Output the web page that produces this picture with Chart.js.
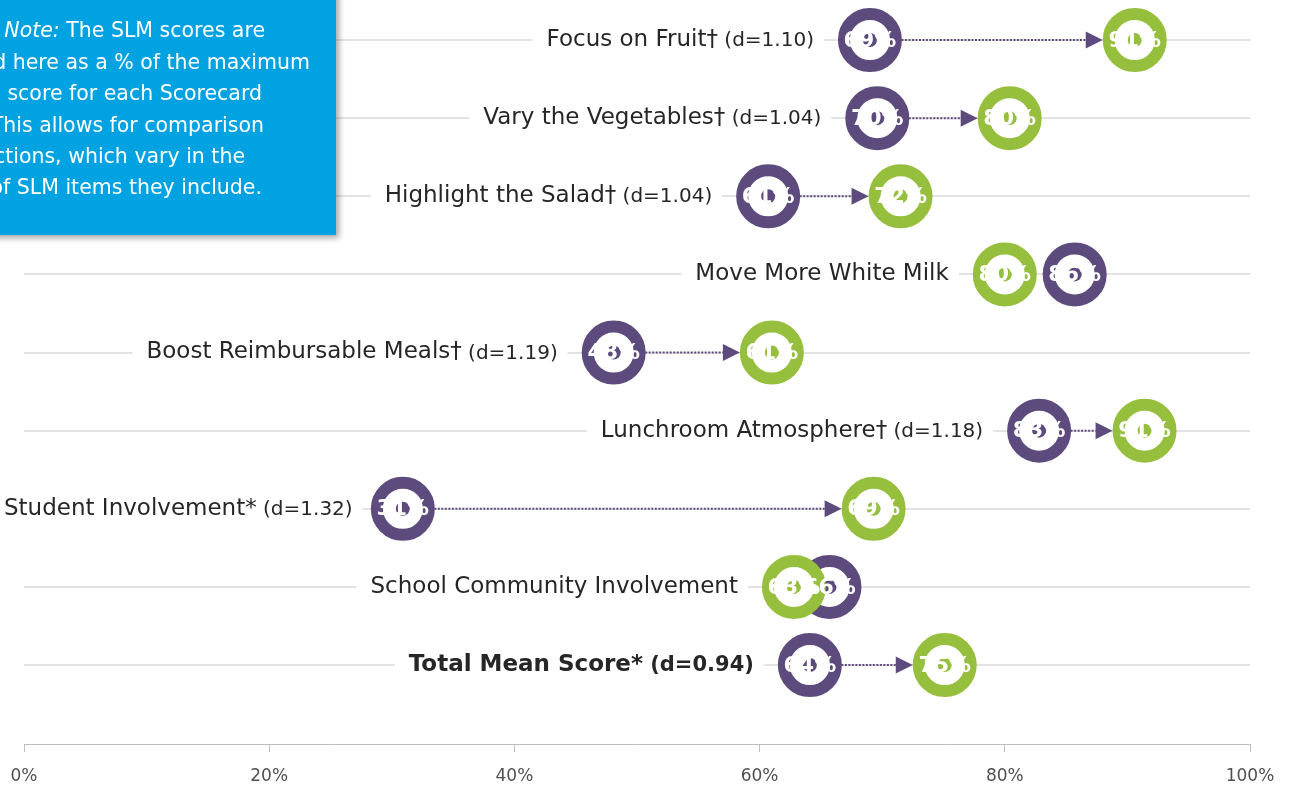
<!DOCTYPE html>
<html><head><meta charset="utf-8">
<script src="https://cdn.jsdelivr.net/npm/chart.js@4.4.1/dist/chart.umd.min.js"></script>
<style>html,body{margin:0;padding:0;background:#fff;overflow:hidden}canvas{display:block}</style>
</head><body>
<canvas id="c" width="1289" height="786"></canvas>
<script>
// ---- data ----
const categories = ['Focus on Fruit\u2020', 'Vary the Vegetables\u2020', 'Highlight the Salad\u2020', 'Move More White Milk',
  'Boost Reimbursable Meals\u2020', 'Lunchroom Atmosphere\u2020', 'Student Involvement*', 'School Community Involvement', 'Total Mean Score*'];
const effectSizes = ['(d=1.10)', '(d=1.04)', '(d=1.04)', '', '(d=1.19)', '(d=1.18)', '(d=1.32)', '', '(d=0.94)'];
const baselineScores = [69.0, 69.6, 60.7, 85.7, 48.1, 82.8, 30.9, 65.7, 64.1];   // purple
const followupScores = [90.6, 80.4, 71.5, 80.0, 61.0, 91.4, 69.3, 62.8, 75.1];   // green
const xTickValues = [0, 20, 40, 60, 80, 100];
const noteLines = ['The SLM scores are', 'presented here as a % of the maximum', 'possible score for each Scorecard',
  'section. This allows for comparison', 'across sections, which vary in the', 'number of SLM items they include.'];
const noteLead = 'Note:';

const PURPLE = '#5e4b7d', GREEN = '#95bf3d', BLUE = '#00a2e2';
const FONT = '"DejaVu Sans", sans-serif';
const pts = arr => arr.map((v, i) => ({ x: v, y: i }));
const R_OUT = 32;

const decorPlugin = {
  id: 'decor',
  beforeDraw(chart) {
    const ctx = chart.ctx;
    ctx.save(); ctx.fillStyle = '#fff'; ctx.fillRect(0, 0, chart.width, chart.height); ctx.restore();
  },
  beforeDatasetsDraw(chart) {
    const ctx = chart.ctx, xs = chart.scales.x, ys = chart.scales.y;
    categories.forEach((cat, i) => {
      const y = ys.getPixelForValue(i);
      const p1 = xs.getPixelForValue(baselineScores[i]);
      const p2 = xs.getPixelForValue(followupScores[i]);
      const bold = i === categories.length - 1;
      const mainFont = (bold ? 'bold ' : '') + '23px ' + FONT;
      const effFont = (bold ? 'bold ' : '') + (bold ? '21px ' : '20px ') + FONT;
      ctx.save();
      ctx.font = mainFont; const wMain = ctx.measureText(cat).width;
      ctx.font = effFont; const eff = effectSizes[i] ? ' ' + effectSizes[i] : '';
      const wEff = eff ? ctx.measureText(eff).width : 0;
      const leftEdge = Math.min(p1, p2) - R_OUT;
      const textRight = leftEdge - 24;
      const textLeft = Math.max(4, textRight - wMain - wEff);
      ctx.fillStyle = '#fff';
      ctx.fillRect(textLeft - 14, y - 8, (textLeft + wMain + wEff + 10) - (textLeft - 14), 16);
      ctx.fillStyle = '#262626';
      ctx.textBaseline = 'middle'; ctx.textAlign = 'left';
      ctx.font = mainFont; ctx.fillText(cat, textLeft, y);
      if (eff) { ctx.font = effFont; ctx.fillText(eff, textLeft + wMain, y + 1); }
      // arrow
      const d = p2 - p1, dir = Math.sign(d);
      if (Math.abs(d) > 2 * R_OUT + 18) {
        const tip = p2 - dir * R_OUT, base = tip - dir * 17;
        ctx.strokeStyle = PURPLE; ctx.lineWidth = 2; ctx.setLineDash([2, 1.5]);
        ctx.beginPath(); ctx.moveTo(p1, y); ctx.lineTo(base, y); ctx.stroke();
        ctx.setLineDash([]);
        ctx.fillStyle = PURPLE;
        ctx.beginPath(); ctx.moveTo(tip, y); ctx.lineTo(base, y - 8.5); ctx.lineTo(base, y + 8.5); ctx.closePath(); ctx.fill();
      }
      ctx.restore();
    });
  },
  afterDatasetsDraw(chart) {
    const ctx = chart.ctx, xs = chart.scales.x, ys = chart.scales.y;
    ctx.save();
    ctx.font = 'bold 22px ' + FONT; ctx.fillStyle = '#fff';
    ctx.textAlign = 'center'; ctx.textBaseline = 'middle';
    [baselineScores, followupScores].forEach(arr => arr.forEach((v, i) => {
      ctx.fillText(Math.round(v) + '%', xs.getPixelForValue(v), ys.getPixelForValue(i) + 1);
    }));
    ctx.restore();
    // note box
    ctx.save();
    ctx.shadowColor = 'rgba(0,0,0,0.35)'; ctx.shadowBlur = 6; ctx.shadowOffsetX = 3; ctx.shadowOffsetY = 3;
    ctx.fillStyle = BLUE; ctx.fillRect(-20, -20, 356, 255);
    ctx.restore();
    ctx.save();
    ctx.fillStyle = '#fff'; ctx.textBaseline = 'middle'; ctx.textAlign = 'left';
    const ends = [265, 310, 262, 264, 245, 262];
    const nf = '20.5px ' + FONT;
    noteLines.forEach((ln, k) => {
      const y = 32 + k * 31.4;
      ctx.font = nf;
      if (k === 0) {
        const w2 = ctx.measureText(' ' + ln).width;
        ctx.font = 'italic ' + nf;
        const w1 = ctx.measureText(noteLead).width;
        const x0 = ends[k] - w1 - w2;
        ctx.fillText(noteLead, x0, y);
        ctx.font = nf; ctx.fillText(' ' + ln, x0 + w1, y);
      } else {
        const w = ctx.measureText(ln).width;
        ctx.fillText(ln, ends[k] - w, y);
      }
    });
    ctx.restore();
  }
};

const ringDefaults = { pointRadius: 26, backgroundColor: '#fff', borderWidth: 12, clip: false };
new Chart(document.getElementById('c'), {
  type: 'scatter',
  data: {
    datasets: [
      { data: pts(followupScores), pointRadius: 7, backgroundColor: GREEN, borderWidth: 0, clip: false },
      Object.assign({ data: pts(followupScores), borderColor: GREEN }, ringDefaults),
      { data: pts(baselineScores), pointRadius: 7, backgroundColor: PURPLE, borderWidth: 0, clip: false },
      Object.assign({ data: pts(baselineScores), borderColor: PURPLE }, ringDefaults)
    ]
  },
  options: {
    responsive: false, animation: false, devicePixelRatio: 1, events: [],
    layout: { autoPadding: false, padding: { left: 24, right: 39, top: 0, bottom: 0 } },
    plugins: { legend: { display: false }, tooltip: { enabled: false } },
    scales: {
      x: {
        type: 'linear', min: 0, max: 100,
        afterBuildTicks: s => { s.ticks = xTickValues.map(v => ({ value: v })); },
        afterFit: s => { s.height = 42; s.paddingLeft = 0; s.paddingRight = 0; },
        ticks: { callback: v => v + '%', font: { family: FONT, size: 17 }, color: '#505050', padding: 14, maxRotation: 0 },
        grid: { drawOnChartArea: false, drawTicks: true, tickLength: 8, color: '#bfbfbf' },
        border: { display: true, color: '#bfbfbf', width: 1 }
      },
      y: {
        type: 'linear', reverse: true, min: -0.512, max: 9.011,
        afterBuildTicks: s => { s.ticks = categories.map((_, i) => ({ value: i })); },
        afterFit: s => { s.width = 0; s.paddingTop = 0; s.paddingBottom = 0; },
        ticks: { display: false },
        grid: { color: '#e3e3e3', lineWidth: 2, drawTicks: false },
        border: { display: false }
      }
    }
  },
  plugins: [decorPlugin]
});
</script>
</body></html>
